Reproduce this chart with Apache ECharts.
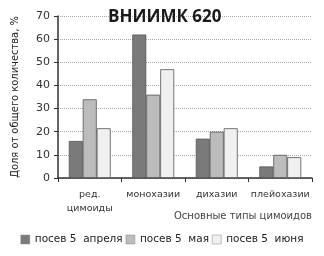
<!DOCTYPE html>
<html><head><meta charset="utf-8">
<script src="https://cdn.jsdelivr.net/npm/echarts@6/dist/echarts.min.js"></script>
<style>html,body{margin:0;padding:0;background:#fff}#c{width:324px;height:256px}</style>
</head><body><div id="c"></div>
<script>
var categories = ['ред.\nцимоиды', 'монохазии', 'дихазии', 'плейохазии'];
var seriesNames = ['посев 5  апреля', 'посев 5  мая', 'посев 5  июня'];
var april = [16, 62, 17, 5];
var may = [34, 36, 20, 10];
var june = [21.5, 47, 21.5, 9];
var yTicks = [0, 70, 10];
var colors = ['#7a7a7a', '#bcbcbc', '#f0f0f0'];

var chart = echarts.init(document.getElementById('c'), null, {renderer: 'canvas'});
var data = [april, may, june];
var series = seriesNames.map(function (n, i) {
  return {
    name: n, type: 'bar', data: data[i], barGap: '0%', barCategoryGap: '34%',
    itemStyle: {color: colors[i], borderColor: '#555', borderWidth: 0.8}
  };
});
chart.setOption({
  animation: false,
  title: {text: 'ВНИИМК 620', left: 103, top: 4,
    textStyle: {fontFamily: 'Open Sans', fontWeight: 'bold', fontSize: 17, color: '#1a1a1a'}},
  grid: {left: 58, right: 12, top: 16, bottom: 78},
  legend: {bottom: 6, left: 'center', itemWidth: 9, itemHeight: 9, itemGap: 3,
    textStyle: {fontFamily: 'DejaVu Sans', fontSize: 10.5, color: '#222'},
    itemStyle: {borderWidth: 0.5, borderColor: '#888'},
    icon: 'rect', data: seriesNames},
  xAxis: {type: 'category', data: categories,
    name: 'Основные типы цимоидов', nameLocation: 'end', nameGap: 0,
    nameTextStyle: {align: 'right', verticalAlign: 'top', padding: [33, 0, 0, 0],
      fontFamily: 'DejaVu Sans', fontSize: 10, color: '#444'},
    axisLine: {lineStyle: {color: '#333', width: 1.5}},
    axisTick: {show: true, length: 4, lineStyle: {color: '#333'}},
    axisLabel: {interval: 0, fontFamily: 'DejaVu Sans', fontSize: 9.5, color: '#333', margin: 10, lineHeight: 14}},
  yAxis: {type: 'value', min: yTicks[0], max: yTicks[1], interval: yTicks[2],
    name: 'Доля от общего количества, %', nameLocation: 'middle', nameGap: 37,
    nameTextStyle: {fontFamily: 'Liberation Sans Narrow, DejaVu Sans Condensed, DejaVu Sans', fontSize: 11, color: '#222'},
    axisLine: {show: true, lineStyle: {color: '#333', width: 1.5}},
    axisTick: {show: true, length: 4, inside: false, lineStyle: {color: '#333'}},
    axisLabel: {fontFamily: 'DejaVu Sans', fontSize: 11, color: '#333', margin: 8},
    splitLine: {lineStyle: {color: '#aaa', type: 'dotted'}}},
  series: series
});
</script></body></html>
